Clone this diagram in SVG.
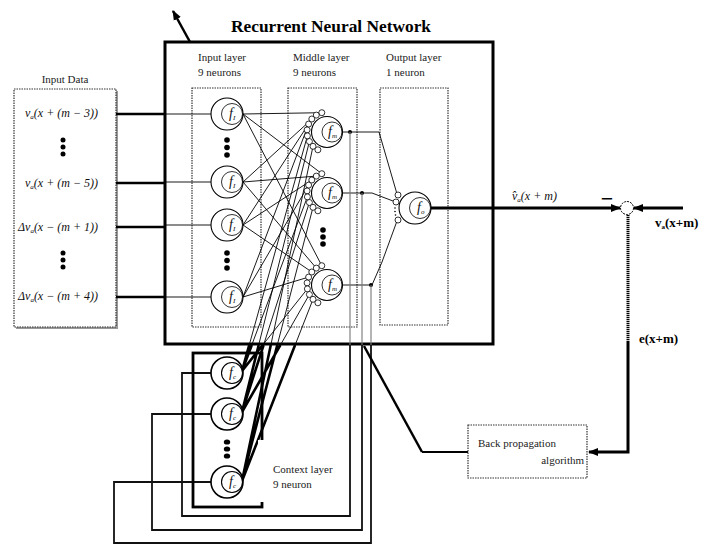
<svg xmlns="http://www.w3.org/2000/svg" xmlns:xlink="http://www.w3.org/1999/xlink" width="718" height="545" viewBox="0 0 718 545">
<style>
.t{font-family:"Liberation Serif",serif;font-size:11px;fill:#222}
.ti{font-family:"Liberation Serif",serif;font-style:italic;font-size:12px;fill:#111}
.tb{font-family:"Liberation Serif",serif;font-weight:bold;fill:#000}
.fx{font-family:"Liberation Serif",serif;font-style:italic;font-size:14px;fill:#111}
.sub{font-size:7px}
.oc{fill:#fff;stroke:#000;stroke-width:1.1}
.ic{fill:none;stroke:#000;stroke-width:0.8}
.sc{fill:#fff;stroke:#000;stroke-width:0.8}
.dot{fill:#000}
.dbox{fill:none;stroke:#333;stroke-width:1.2;stroke-dasharray:1.5 1}
.w{fill:none;stroke:#000;stroke-width:0.9}
.thk{fill:none;stroke:#000;stroke-width:2.6}
.fb{fill:none;stroke:#111;stroke-width:1.8}
.fbg{fill:none;stroke:#777;stroke-width:1.1}
</style>
<defs>
<marker id="ah" markerUnits="userSpaceOnUse" markerWidth="10" markerHeight="10" viewBox="0 0 10 10" refX="9" refY="5" orient="auto">
<path d="M0,1 L10,5 L0,9 Z" fill="#000"/>
</marker>
<g id="neu"><circle r="16" class="oc"/><circle cx="5" r="10.5" class="ic"/></g>
<g id="neuc"><circle r="16" class="oc" style="stroke-width:1.6"/><circle cx="5" r="10.5" class="ic" style="stroke-width:1.1"/></g>
<g id="mneu">
<circle cx="-5.2" cy="-19.3" r="3" class="sc"/>
<circle cx="-10.7" cy="-16.9" r="3" class="sc"/>
<circle cx="-15.2" cy="-13" r="3" class="sc"/>
<circle cx="-18.4" cy="-7.9" r="3" class="sc"/>
<circle cx="-19.9" cy="-2.1" r="3" class="sc"/>
<circle cx="-19.6" cy="3.9" r="3" class="sc"/>
<circle cx="-17.6" cy="9.5" r="3" class="sc"/>
<circle cx="-14" cy="14.3" r="3" class="sc"/>
<circle cx="-9.1" cy="17.8" r="3" class="sc"/>
<circle r="15.5" class="oc"/><circle cx="5" r="10" class="ic"/>
</g>
</defs>

<rect width="718" height="545" fill="#fff"/>

<g id="title"><text class="tb" x="231" y="32" font-size="16" textLength="200" lengthAdjust="spacingAndGlyphs">Recurrent Neural Network</text></g>

<g id="rnn-box">
<rect x="165" y="42" width="328" height="302" fill="#fff" stroke="#000" stroke-width="3"/>
<text class="t" x="198" y="61">Input layer</text>
<text class="t" x="198" y="76">9 neurons</text>
<text class="t" x="293" y="61">Middle layer</text>
<text class="t" x="293" y="76">9 neurons</text>
<text class="t" x="386" y="61">Output layer</text>
<text class="t" x="386" y="76">1 neuron</text>
<rect x="192" y="88" width="69" height="239" class="dbox"/>
<rect x="288" y="88" width="69" height="239" class="dbox"/>
<rect x="380" y="88" width="68" height="237" class="dbox"/>
</g>

<g id="input-data">
<rect x="16" y="91" width="102" height="238" fill="#999"/>
<rect x="14" y="89" width="102" height="238" fill="#fff" stroke="#333" stroke-width="1.2" stroke-dasharray="1.5 1"/>
<text class="t" x="65" y="83" text-anchor="middle">Input Data</text>
<text class="ti" x="25" y="117">v<tspan class="sub" dy="2">a</tspan><tspan dy="-2">(x + (m − 3))</tspan></text>
<text class="ti" x="25" y="187">v<tspan class="sub" dy="2">a</tspan><tspan dy="-2">(x + (m − 5))</tspan></text>
<text class="ti" x="18" y="231">Δv<tspan class="sub" dy="2">a</tspan><tspan dy="-2">(x − (m + 1))</tspan></text>
<text class="ti" x="18" y="300">Δv<tspan class="sub" dy="2">a</tspan><tspan dy="-2">(x − (m + 4))</tspan></text>
<circle cx="63" cy="140" r="2.5" class="dot"/><circle cx="63" cy="147" r="2.5" class="dot"/><circle cx="63" cy="154" r="2.5" class="dot"/>
<circle cx="63" cy="253" r="2.5" class="dot"/><circle cx="63" cy="260" r="2.5" class="dot"/><circle cx="63" cy="267" r="2.5" class="dot"/>
</g>

<g id="connectors">
<path class="thk" d="M116,114 H166 M116,183 H166 M116,227 H166 M116,297 H166"/>
<path class="w" d="M166,114 H211 M166,182 H211 M166,225 H211 M166,297 H211"/>
<path class="w" d="M243,114 L321.8,112.7 M243,114 L321.8,173.7 M243,114 L321.8,265.7"/>
<path class="w" d="M243,182 L316.3,115.1 M243,182 L316.3,176.1 M243,182 L316.3,268.1"/>
<path class="w" d="M243,225 L311.8,119 M243,225 L311.8,180 M243,225 L311.8,272"/>
<path class="w" d="M243,297 L308.6,124.1 M243,297 L308.6,185.1 M243,297 L308.6,277.1"/>
<path class="w" d="M242,371 L307.4,135.9 M242,371 L307.4,196.9 M242,371 L307.4,288.9"/>
<path class="w" d="M242,412 L309.4,141.5 M242,412 L309.4,202.5 M242,412 L309.4,294.5"/>
<path class="w" d="M242,481 L313,146.3 M242,481 L313,207.3 M242,481 L313,299.3"/>
<path fill="none" stroke="#000" stroke-width="2.6" d="M242,371 L249.2,345 M242,371 L251.8,345 M242,371 L262.7,345 M242,412 L258.7,345 M242,412 L263.6,345 M242,412 L280.4,345 M242,481 L270.8,345 M242,481 L277.3,345 M242,481 L295.1,345"/>
<path class="w" d="M342,132 H379 L397,194"/>
<path class="w" d="M342,193 H372 L393,201"/>
<path class="w" d="M342,285 H372 L382,262 L397,221"/>
<circle cx="350" cy="132" r="2" class="dot"/>
<circle cx="362" cy="193" r="2" class="dot"/>
<circle cx="371" cy="285" r="2" class="dot"/>
<path class="fbg" d="M350,132 V345 M362,193 V345 M371,285 V345"/>
<path class="fb" d="M350,345 V516 H182 V373 H211"/>
<path class="fb" d="M362,345 V530 H152 V414 H211"/>
<path class="fb" d="M371,345 V543 H114 V482 H211"/>
<path fill="none" stroke="#000" stroke-width="3" d="M431,208 H620" marker-end="url(#ah)"/>
<path fill="none" stroke="#000" stroke-width="3" d="M683,208 H634" marker-end="url(#ah)"/>
<path fill="none" stroke="#000" stroke-width="3" stroke-dasharray="1.2 0.8" d="M628,215 V342"/>
<path fill="none" stroke="#000" stroke-width="3" d="M628,342 V452 H589" marker-end="url(#ah)"/>
<path fill="none" stroke="#000" stroke-width="2.5" d="M190,42 L173,11" marker-end="url(#ah)"/>
<path fill="none" stroke="#000" stroke-width="2.5" d="M364,346 L422,452"/>
<path fill="none" stroke="#000" stroke-width="2" d="M422,452 H468"/>
</g>

<g id="input-neurons">
<use xlink:href="#neu" x="227" y="114"/><text class="fx" x="229" y="118">f<tspan class="sub" dy="2">I</tspan></text>
<use xlink:href="#neu" x="227" y="182"/><text class="fx" x="229" y="186">f<tspan class="sub" dy="2">I</tspan></text>
<use xlink:href="#neu" x="227" y="225"/><text class="fx" x="229" y="229">f<tspan class="sub" dy="2">I</tspan></text>
<use xlink:href="#neu" x="227" y="297"/><text class="fx" x="229" y="301">f<tspan class="sub" dy="2">I</tspan></text>
<circle cx="227" cy="140" r="2.8" class="dot"/><circle cx="227" cy="147.5" r="2.8" class="dot"/><circle cx="227" cy="155" r="2.8" class="dot"/>
<circle cx="227" cy="253" r="2.8" class="dot"/><circle cx="227" cy="260.5" r="2.8" class="dot"/><circle cx="227" cy="268" r="2.8" class="dot"/>
</g>

<g id="middle-neurons">
<use xlink:href="#mneu" x="327" y="132"/><text class="fx" x="328" y="136">f<tspan class="sub" dy="2">m</tspan></text>
<use xlink:href="#mneu" x="327" y="193"/><text class="fx" x="328" y="197">f<tspan class="sub" dy="2">m</tspan></text>
<use xlink:href="#mneu" x="327" y="285"/><text class="fx" x="328" y="289">f<tspan class="sub" dy="2">m</tspan></text>
<circle cx="323" cy="230" r="2.8" class="dot"/><circle cx="323" cy="237" r="2.8" class="dot"/><circle cx="323" cy="244" r="2.8" class="dot"/>
</g>

<g id="output-neuron">
<circle cx="398" cy="195" r="3" class="sc"/>
<circle cx="396" cy="202" r="3" class="sc"/>
<circle cx="398" cy="220" r="3" class="sc"/>
<circle cx="395" cy="208" r="0.8" class="dot"/><circle cx="395" cy="211.5" r="0.8" class="dot"/><circle cx="395.5" cy="215" r="0.8" class="dot"/>
<use xlink:href="#neu" x="415" y="208"/><text class="fx" x="417" y="212">f<tspan class="sub" dy="2">o</tspan></text>
</g>

<g id="context-layer">
<rect x="193" y="353" width="69" height="154" fill="none" stroke="#000" stroke-width="2.8"/>
<rect x="258" y="440" width="8" height="62" fill="#fff"/>
<use xlink:href="#neuc" x="227" y="373"/><text class="fx" x="229" y="377">f<tspan class="sub" dy="2">c</tspan></text>
<use xlink:href="#neuc" x="227" y="414"/><text class="fx" x="229" y="418">f<tspan class="sub" dy="2">c</tspan></text>
<use xlink:href="#neuc" x="227" y="482"/><text class="fx" x="229" y="486">f<tspan class="sub" dy="2">c</tspan></text>
<ellipse cx="227" cy="442" rx="3.2" ry="2.6" class="dot"/><ellipse cx="227" cy="449" rx="3.2" ry="2.6" class="dot"/><ellipse cx="227" cy="456" rx="3.2" ry="2.6" class="dot"/>
<text class="t" x="273" y="473">Context layer</text>
<text class="t" x="273" y="488">9 neuron</text>
</g>

<g id="sum">
<circle cx="627" cy="208" r="6.5" fill="#fff" stroke="#000" stroke-width="1" stroke-dasharray="2 1"/>
<text class="tb" x="607" y="206" font-size="22" text-anchor="middle">−</text>
<text class="ti" x="512" y="200">v̂<tspan class="sub" dy="2">a</tspan><tspan dy="-2">(x + m)</tspan></text>
<text class="tb" x="655" y="227" font-size="13">v<tspan font-size="7" dy="2">a</tspan><tspan dy="-2">(x+m)</tspan></text>
<text class="tb" x="639" y="343" font-size="13">e(x+m)</text>
</g>

<g id="backprop">
<rect x="468" y="425" width="119" height="53" fill="#fff" stroke="#333" stroke-width="1.2" stroke-dasharray="1.5 1"/>
<text class="t" x="478" y="447">Back propagation</text>
<text class="t" x="584" y="464" text-anchor="end">algorithm</text>
</g>
</svg>
